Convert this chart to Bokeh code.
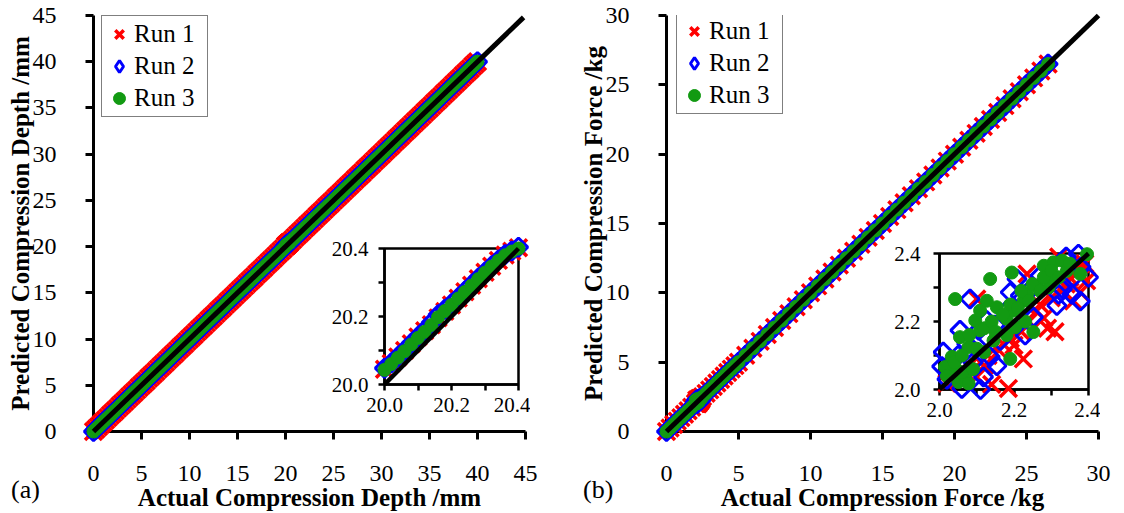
import numpy as np
from bokeh.plotting import figure
from bokeh.models import (Range1d, FixedTicker, Legend, LegendItem, GridBox, Div,
                          ColumnDataSource, CDSView, BooleanFilter, NumeralTickFormatter)
from bokeh.embed import file_html
from bokeh.resources import INLINE

# ------------------------------------------------------------------ data
run_names = ["Run 1", "Run 2", "Run 3"]

# (a) compression depth /mm  -- readings along the whole band (predicted = actual at this scale)
depth_main_actual = [0.0, 0.25, 0.5, 0.75, 1.0, 1.25, 1.5, 1.75, 2.0, 2.25, 2.5, 2.75, 3.0, 3.25,
                     3.5, 3.75, 4.0, 4.25, 4.5, 4.75, 5.0, 5.25, 5.5, 5.75, 6.0, 6.25, 6.5, 6.75,
                     7.0, 7.25, 7.5, 7.75, 8.0, 8.25, 8.5, 8.75, 9.0, 9.25, 9.5, 9.75, 10.0, 10.25,
                     10.5, 10.75, 11.0, 11.25, 11.5, 11.75, 12.0, 12.25, 12.5, 12.75, 13.0, 13.25,
                     13.5, 13.75, 14.0, 14.25, 14.5, 14.75, 15.0, 15.25, 15.5, 15.75, 16.0, 16.25,
                     16.5, 16.75, 17.0, 17.25, 17.5, 17.75, 18.0, 18.25, 18.5, 18.75, 19.0, 19.25,
                     19.5, 19.75, 20.5, 20.75, 21.0, 21.25, 21.5, 21.75, 22.0, 22.25, 22.5, 22.75,
                     23.0, 23.25, 23.5, 23.75, 24.0, 24.25, 24.5, 24.75, 25.0, 25.25, 25.5, 25.75,
                     26.0, 26.25, 26.5, 26.75, 27.0, 27.25, 27.5, 27.75, 28.0, 28.25, 28.5, 28.75,
                     29.0, 29.25, 29.5, 29.75, 30.0, 30.25, 30.5, 30.75, 31.0, 31.25, 31.5, 31.75,
                     32.0, 32.25, 32.5, 32.75, 33.0, 33.25, 33.5, 33.75, 34.0, 34.25, 34.5, 34.75,
                     35.0, 35.25, 35.5, 35.75, 36.0, 36.25, 36.5, 36.75, 37.0, 37.25, 37.5, 37.75,
                     38.0, 38.25, 38.5, 38.75, 39.0, 39.25, 39.5, 39.75, 40.0]
depth_main_pred = [0.0, 0.25, 0.5, 0.75, 1.0, 1.25, 1.5, 1.75, 2.0, 2.25, 2.5, 2.75, 3.0, 3.25,
                   3.5, 3.75, 4.0, 4.25, 4.5, 4.75, 5.0, 5.25, 5.5, 5.75, 6.0, 6.25, 6.5, 6.75,
                   7.0, 7.25, 7.5, 7.75, 8.0, 8.25, 8.5, 8.75, 9.0, 9.25, 9.5, 9.75, 10.0, 10.25,
                   10.5, 10.75, 11.0, 11.25, 11.5, 11.75, 12.0, 12.25, 12.5, 12.75, 13.0, 13.25,
                   13.5, 13.75, 14.0, 14.25, 14.5, 14.75, 15.0, 15.25, 15.5, 15.75, 16.0, 16.25,
                   16.5, 16.75, 17.0, 17.25, 17.5, 17.75, 18.0, 18.25, 18.5, 18.75, 19.0, 19.25,
                   19.5, 19.75, 20.5, 20.75, 21.0, 21.25, 21.5, 21.75, 22.0, 22.25, 22.5, 22.75,
                   23.0, 23.25, 23.5, 23.75, 24.0, 24.25, 24.5, 24.75, 25.0, 25.25, 25.5, 25.75,
                   26.0, 26.25, 26.5, 26.75, 27.0, 27.25, 27.5, 27.75, 28.0, 28.25, 28.5, 28.75,
                   29.0, 29.25, 29.5, 29.75, 30.0, 30.25, 30.5, 30.75, 31.0, 31.25, 31.5, 31.75,
                   32.0, 32.25, 32.5, 32.75, 33.0, 33.25, 33.5, 33.75, 34.0, 34.25, 34.5, 34.75,
                   35.0, 35.25, 35.5, 35.75, 36.0, 36.25, 36.5, 36.75, 37.0, 37.25, 37.5, 37.75,
                   38.0, 38.25, 38.5, 38.75, 39.0, 39.25, 39.5, 39.75, 40.0]
# (a) zoomed readings 20.0 - 20.4 mm
depth_zoom_actual = [20.00, 20.02, 20.04, 20.06, 20.08, 20.10, 20.12, 20.14, 20.16, 20.18, 20.20,
                     20.22, 20.24, 20.26, 20.28, 20.30, 20.32, 20.34, 20.36, 20.38, 20.40]
run1_depth_zoom_pred = [20.045, 20.062, 20.081, 20.100, 20.120, 20.140, 20.158, 20.176, 20.196,
                        20.215, 20.234, 20.254, 20.273, 20.292, 20.311, 20.330, 20.348, 20.365,
                        20.381, 20.392, 20.402]
run2_depth_zoom_pred = [20.048, 20.063, 20.082, 20.101, 20.121, 20.141, 20.160, 20.182, 20.205,
                        20.221, 20.238, 20.256, 20.275, 20.294, 20.313, 20.331, 20.349, 20.366,
                        20.382, 20.393, 20.404]
run3_depth_zoom_pred = [20.043, 20.060, 20.079, 20.098, 20.118, 20.137, 20.155, 20.175, 20.198,
                        20.216, 20.234, 20.253, 20.272, 20.291, 20.310, 20.329, 20.347, 20.364,
                        20.380, 20.391, 20.400]
depth_ideal = [0.0, 44.8]
depth_zoom_ideal = [20.0, 20.4]

# (b) compression force /kg -- readings along the whole band (predicted = actual at this scale)
force_main_actual = [0.0, 0.25, 0.5, 0.75, 1.0, 1.25, 1.5, 1.75, 2.5, 2.75, 3.0, 3.25, 3.5, 3.75,
                     4.0, 4.25, 4.5, 4.75, 5.0, 5.5, 6.0, 6.5, 7.0, 7.5, 8.0, 8.5, 9.0, 9.5, 10.0,
                     10.5, 11.0, 11.5, 12.0, 12.5, 13.0, 13.5, 14.0, 14.5, 15.0, 15.5, 16.0, 16.5,
                     17.0, 17.5, 18.0, 18.5, 19.0, 19.5, 20.0, 20.5, 21.0, 21.5, 22.0, 22.5, 23.0,
                     23.5, 24.0, 24.5, 25.0, 25.5, 26.0, 26.5]
force_main_pred = [0.0, 0.25, 0.5, 0.75, 1.0, 1.25, 1.5, 1.75, 2.5, 2.75, 3.0, 3.25, 3.5, 3.75,
                   4.0, 4.25, 4.5, 4.75, 5.0, 5.5, 6.0, 6.5, 7.0, 7.5, 8.0, 8.5, 9.0, 9.5, 10.0,
                   10.5, 11.0, 11.5, 12.0, 12.5, 13.0, 13.5, 14.0, 14.5, 15.0, 15.5, 16.0, 16.5,
                   17.0, 17.5, 18.0, 18.5, 19.0, 19.5, 20.0, 20.5, 21.0, 21.5, 22.0, 22.5, 23.0,
                   23.5, 24.0, 24.5, 25.0, 25.5, 26.0, 26.5]
# (b) zoomed readings 2.0 - 2.4 kg
run1_force_zoom_actual = [2.02, 2.065, 2.10, 2.10, 2.11, 2.12, 2.14, 2.16, 2.17, 2.185, 2.20, 2.225,
                          2.235, 2.26, 2.28, 2.29, 2.30, 2.31, 2.32, 2.34, 2.36, 2.37, 2.378, 2.38,
                          2.395, 2.05, 2.08, 2.13, 2.19, 2.24, 2.27, 2.33, 2.35, 2.39, 2.22]
run1_force_zoom_pred = [2.018, 2.057, 2.037, 2.266, 2.08, 2.07, 2.015, 2.115, 2.135, 2.003, 2.13,
                        2.09, 2.34, 2.23, 2.21, 2.18, 2.27, 2.17, 2.39, 2.31, 2.26, 2.35, 2.286,
                        2.37, 2.32, 2.03, 2.07, 2.10, 2.15, 2.20, 2.25, 2.29, 2.33, 2.37, 2.17]
run2_force_zoom_actual = [2.006, 2.01, 2.033, 2.055, 2.06, 2.073, 2.082, 2.105, 2.11, 2.118, 2.127,
                          2.136, 2.154, 2.163, 2.18, 2.19, 2.208, 2.217, 2.23, 2.252, 2.27, 2.315,
                          2.33, 2.34, 2.355, 2.373, 2.378, 2.40, 2.02, 2.05, 2.09, 2.15, 2.24,
                          2.29, 2.32, 2.36, 2.38, 2.20, 2.13]
run2_force_zoom_pred = [2.068, 2.11, 2.057, 2.174, 2.003, 2.135, 2.266, 2.174, 2.0, 2.037, 2.203,
                        2.096, 2.07, 2.144, 2.232, 2.286, 2.325, 2.276, 2.16, 2.213, 2.335, 2.247,
                        2.296, 2.39, 2.28, 2.398, 2.26, 2.33, 2.03, 2.10, 2.08, 2.19, 2.29,
                        2.31, 2.28, 2.33, 2.36, 2.21, 2.15]
run3_force_zoom_actual = [2.015, 2.033, 2.042, 2.047, 2.051, 2.055, 2.069, 2.078, 2.078, 2.096,
                          2.109, 2.109, 2.127, 2.136, 2.145, 2.154, 2.18, 2.19, 2.194, 2.199,
                          2.203, 2.226, 2.235, 2.252, 2.261, 2.28, 2.293, 2.306, 2.306, 2.329,
                          2.342, 2.378, 2.396, 2.02, 2.04, 2.06, 2.08, 2.10, 2.12, 2.14, 2.15,
                          2.17, 2.19, 2.21, 2.22, 2.24, 2.25, 2.27, 2.28, 2.30, 2.32, 2.35,
                          2.06, 2.09, 2.12, 2.18, 2.23]
run3_force_zoom_pred = [2.066, 2.096, 2.266, 2.057, 2.022, 2.154, 2.037, 2.125, 2.018, 2.203,
                        2.174, 2.232, 2.261, 2.325, 2.144, 2.242, 2.208, 2.09, 2.344, 2.232,
                        2.183, 2.261, 2.281, 2.169, 2.305, 2.364, 2.30, 2.374, 2.32, 2.379,
                        2.349, 2.34, 2.398, 2.04, 2.08, 2.10, 2.16, 2.12, 2.18, 2.20, 2.17,
                        2.22, 2.25, 2.24, 2.29, 2.26, 2.31, 2.29, 2.33, 2.35, 2.33, 2.37,
                        2.05, 2.06, 2.11, 2.16, 2.20]
force_ideal = [0.0, 30.0]
force_zoom_ideal = [2.0, 2.4]

depth_ticks = [0, 5, 10, 15, 20, 25, 30, 35, 40, 45]
force_ticks = [0, 5, 10, 15, 20, 25, 30]
depth_zoom_ticks = [20.0, 20.2, 20.4]
depth_zoom_minor = [20.1, 20.3]
force_zoom_ticks = [2.0, 2.2, 2.4]
force_zoom_minor = [2.1, 2.3]

# ------------------------------------------------------------------ styling
SERIF = "Liberation Serif"
RED, BLUE, GREEN = "#FF0000", "#0000FF", "#129A12"
MARKERS = [dict(marker="x", size=24, line_color=RED, line_width=3.5, fill_color=None),
           dict(marker="square", angle=np.pi / 4, size=13, line_color=BLUE, line_width=3,
                fill_color=None),
           dict(marker="circle", size=13, line_color=GREEN, fill_color=GREEN, line_width=1)]
# a legend draws markers unrotated, so the run-2 swatch is a diamond marker
RUN2_SWATCH = dict(marker="diamond", size=12, line_color=BLUE, line_width=3, fill_color=None)

depth_runs = [(depth_main_actual + depth_zoom_actual, depth_main_pred + run1_depth_zoom_pred),
              (depth_main_actual + depth_zoom_actual, depth_main_pred + run2_depth_zoom_pred),
              (depth_main_actual + depth_zoom_actual, depth_main_pred + run3_depth_zoom_pred)]
force_runs = [(force_main_actual + run1_force_zoom_actual, force_main_pred + run1_force_zoom_pred),
              (force_main_actual + run2_force_zoom_actual, force_main_pred + run2_force_zoom_pred),
              (force_main_actual + run3_force_zoom_actual, force_main_pred + run3_force_zoom_pred)]

MAIN_H = 523   # bottom 10 px are hidden by the page box


def style_axis(ax, ticks, tick_px, tick_out, line_w, label_standoff, title_standoff,
               minor=None, fmt=None):
    ax.ticker = FixedTicker(ticks=ticks, minor_ticks=minor or [])
    ax.axis_line_width = line_w
    ax.axis_line_color = "black"
    ax.major_tick_line_width = line_w
    ax.major_tick_line_color = "black"
    ax.major_tick_out = tick_out
    ax.major_tick_in = 0
    if minor:
        ax.minor_tick_line_color = "black"
        ax.minor_tick_line_width = line_w
        ax.minor_tick_out = tick_out
        ax.minor_tick_in = 0
    else:
        ax.minor_tick_line_color = None
    ax.major_label_text_font = SERIF
    ax.major_label_text_font_size = tick_px
    ax.major_label_text_color = "black"
    ax.major_label_standoff = label_standoff
    ax.axis_label_text_font = SERIF
    ax.axis_label_text_font_size = "25px"
    ax.axis_label_text_font_style = "bold"
    ax.axis_label_text_color = "black"
    ax.axis_label_standoff = title_standoff
    if fmt:
        ax.formatter = NumeralTickFormatter(format=fmt)


def build_main(width, vmax, ticks, border_left, border_right, xlabel, ylabel, runs, ideal,
               legend_loc):
    p = figure(width=width, height=MAIN_H, x_range=Range1d(0, vmax), y_range=Range1d(0, vmax),
               output_backend="svg", toolbar_location=None,
               min_border_left=border_left, min_border_right=border_right,
               min_border_top=15, min_border_bottom=MAIN_H - 15 - 416)
    p.outline_line_color = None
    p.grid.visible = False
    p.background_fill_color = "white"
    p.border_fill_color = "white"
    p.xaxis.axis_label = xlabel
    p.yaxis.axis_label = ylabel
    style_axis(p.xaxis[0], ticks, "24px", 8, 3, 26, 0)
    style_axis(p.yaxis[0], ticks, "24px", 8, 3, 29, -4)
    # swatch for the legend: first run-2 reading, drawn under (and hidden by) the data marks
    swatch = p.scatter(runs[1][0][:1], runs[1][1][:1], **RUN2_SWATCH)
    rends = []
    for (xs, ys), st in zip(runs, MARKERS):
        rends.append(p.scatter(xs, ys, level="annotation", **st))
    p.line(ideal, ideal, line_color="black", line_width=5, level="annotation")
    legend_rends = [rends[0], swatch, rends[2]]
    legend = Legend(items=[LegendItem(label=n, renderers=[r])
                           for n, r in zip(run_names, legend_rends)],
                    location=legend_loc, padding=2, spacing=0, glyph_width=30, glyph_height=32,
                    label_standoff=0, label_width=71, label_text_font=SERIF,
                    label_text_font_size="25px", label_text_color="black",
                    border_line_color="black", border_line_width=1.5,
                    background_fill_color="white", background_fill_alpha=1.0)
    p.add_layout(legend, "center")
    return p


def build_inset(width, border_left, lo, hi, ticks, minor, fmt, runs, ideal, sx, sy):
    p = figure(width=width, height=186, x_range=Range1d(lo, hi), y_range=Range1d(lo, hi),
               output_backend="svg", toolbar_location=None,
               min_border_left=border_left, min_border_right=12,
               min_border_top=12, min_border_bottom=38)
    p.border_fill_color = None
    p.background_fill_color = "white"
    p.outline_line_color = "black"
    p.outline_line_width = 2.5
    p.grid.visible = False
    style_axis(p.xaxis[0], ticks, "21px", 6, 2.5, sx, 0, minor, fmt)
    style_axis(p.yaxis[0], ticks, "21px", 6, 2.5, sy, 0, minor, fmt)
    tol = 0.012
    for (xs, ys), st in zip(runs, MARKERS):
        xa, ya = np.array(xs), np.array(ys)
        mask = (xa >= lo - tol) & (xa <= hi + tol) & (ya >= lo - tol) & (ya <= hi + tol)
        src = ColumnDataSource(dict(x=xs, y=ys))
        view = CDSView(filter=BooleanFilter(booleans=mask.tolist()))
        p.scatter("x", "y", source=src, view=view, level="annotation", **st)
    p.line(ideal, ideal, line_color="black", line_width=4.5, level="annotation")
    return p


def tag(text, left):
    return Div(text=text, width=44, height=30, margin=(48, 0, 0, left),
               styles={"font-family": SERIF, "font-size": "26px", "line-height": "30px",
                       "color": "black"})


p_a = build_main(560, 45, depth_ticks, 93, 35, "Actual Compression Depth /mm",
                 "Predicted Compression Depth /mm", depth_runs, depth_ideal, (8, 314))
p_b = build_main(564, 30, force_ticks, 106, 26, "Actual Compression Force /kg",
                 "Predicted Compression Force /kg", force_runs, force_ideal, (10, 317))
in_a = build_inset(204, 58, 20.0, 20.4, depth_zoom_ticks, depth_zoom_minor, "0.0",
                   depth_runs, depth_zoom_ideal, 7, 10)
in_b = build_inset(215, 54, 2.0, 2.4, force_zoom_ticks, force_zoom_minor, "0.0",
                   force_runs, force_zoom_ideal, 7, 13)

grid = GridBox(children=[(p_a, 0, 0, 6, 3), (p_b, 0, 3, 6, 3), (in_a, 1, 1, 2, 1),
                         (in_b, 2, 4, 2, 1), (tag("(a)", 11), 4, 0), (tag("(b)", 23), 4, 3)],
               rows=["236px", "5px", "181px", "5px", "86px", "10px"],
               cols=["326px", "204px", "30px", "325px", "215px", "24px"],
               spacing=0, width=1124, height=513, styles={"overflow": "hidden"})

open("out.html", "w").write(file_html(grid, INLINE, title="Compression prediction"))
